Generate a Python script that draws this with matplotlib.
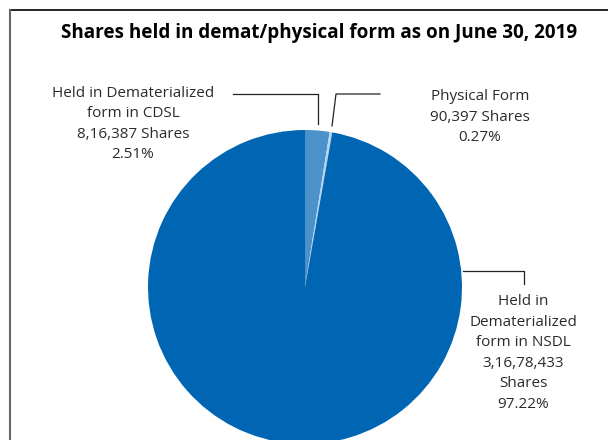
import matplotlib.pyplot as plt
import numpy as np

plt.rcParams['font.family'] = ['Open Sans', 'DejaVu Sans']

# data
labels = ["Held in Dematerialized\nform in CDSL\n8,16,387 Shares\n2.51%",
          "Physical Form\n90,397 Shares\n0.27%",
          "Held in\nDematerialized\nform in NSDL\n3,16,78,433\nShares\n97.22%"]
shares = [816387, 90397, 31678433]
percent = [2.51, 0.27, 97.22]
colors = ["#4a92c9", "#b4d4ef", "#0066b3"]

W, H = 608, 440
fig = plt.figure(figsize=(W / 100, H / 100), dpi=100)
ax = fig.add_axes([0, 0, 1, 1])

cx, cy, r = 305, H - 287, 157
wedges, _ = ax.pie(percent, colors=colors, startangle=90, counterclock=False,
                   center=(cx, cy), radius=r,
                   wedgeprops=dict(linewidth=0))
ax.set_xlim(0, W)
ax.set_ylim(0, H)
ax.set_aspect('equal')
ax.axis('off')

# frame (top and left edges)
ax.plot([10, W], [H - 10, H - 10], color="black", lw=1.2, clip_on=False)
ax.plot([10, 10], [H - 10, 0], color="#666666", lw=1.5, clip_on=False)

ax.text(319, H - 33, "Shares held in demat/physical form as on June 30, 2019",
        ha="center", va="center", fontsize=13.6, fontweight="bold", color="black")


def edge_pt(angle, k=1.0):
    a = np.deg2rad(angle)
    return cx + k * r * np.cos(a), cy + k * r * np.sin(a)


mid = [(w.theta1 + w.theta2) / 2 for w in wedges]
lc = "#222222"

# CDSL leader
x0, y0 = edge_pt(mid[0], 1.04)
ax.plot([233, x0, x0], [H - 94, H - 94, y0], color=lc, lw=0.9)
# physical leader
x1, y1 = edge_pt(mid[1], 1.04)
ax.plot([380, 336, x1], [H - 94, H - 94, y1], color=lc, lw=0.9)
# NSDL leader
x2, y2 = edge_pt(6, 1.0)
ax.plot([x2 + 2, 524, 524], [y2, y2, H - 284], color=lc, lw=0.9)

tc = "#2b2b2b"
ax.text(133, H - 124, labels[0], ha="center", va="center", fontsize=11,
        color=tc, linespacing=1.5)
ax.text(480, H - 117, labels[1], ha="center", va="center", fontsize=11,
        color=tc, linespacing=1.5)
ax.text(523, H - 353, labels[2], ha="center", va="center", fontsize=11,
        color=tc, linespacing=1.5)

fig.savefig("out.png", dpi=100)
